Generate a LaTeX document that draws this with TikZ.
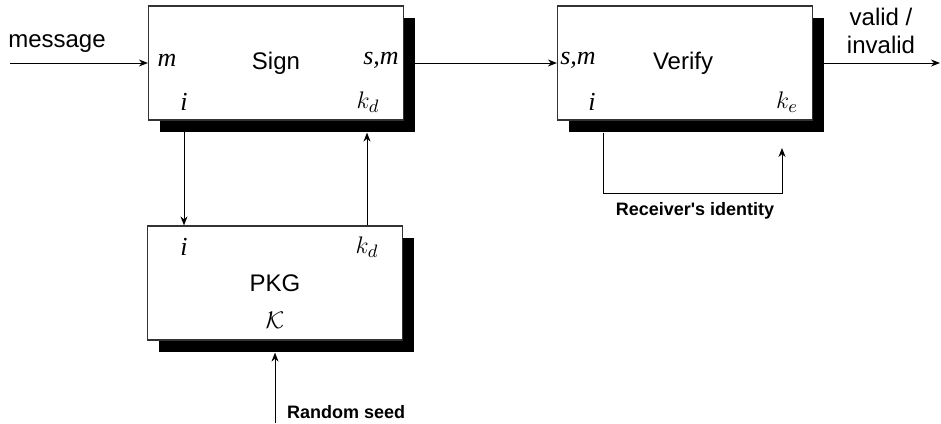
\documentclass[tikz,border=0pt]{standalone}
\usepackage{fontspec}
\setmainfont{Liberation Sans}[Ligatures=TeXOff]
\newfontfamily\symfont{Liberation Serif}
\usetikzlibrary{arrows.meta,shadows}
\definecolor{boxline}{HTML}{333333}

\begin{document}
\begin{tikzpicture}[x=0.5pt, y=-0.5pt,
    every node/.style={font=\fontsize{12}{14}\selectfont},
    block/.style={draw=boxline, line width=0.6pt, fill=white, inner sep=0pt,
      minimum width=127.5pt, minimum height=57pt,
      drop shadow={shadow xshift=5.5pt, shadow yshift=-6pt, fill=black, opacity=1}},
    sym/.style={font=\fontsize{13}{15}\selectfont\symfont\itshape},
    note/.style={font=\fontsize{9}{11}\selectfont\bfseries},
    arr/.style={-{Stealth[length=4.5pt,width=3.5pt]}, line width=0.5pt}]
  \useasboundingbox (0,0) rectangle (941,423);
  % boxes
  \node[block] (sign) at (276,63) {};
  \node[block] (verify) at (685,63) {};
  \node[block] (pkg) at (275,283) {};
  % texts in the boxes
  \node (signtxt) at (276,63) {Sign};
  \node[sym] (signm) at (167,60) {m};
  \node[sym] (signsm) at (381,60) {s,m};
  \node[sym] (signi) at (184,102) {i};
  \node[sym] (signk) at (368,102) {$k_d$};
  \node (verifytxt) at (683,63) {Verify};
  \node[sym] (verifysm) at (578,60) {s,m};
  \node[sym] (verifyi) at (592,102) {i};
  \node[sym] (verifyk) at (787,102) {$k_e$};
  \node (pkgtxt) at (275,283) {PKG};
  \node[sym] (pkgi) at (184,247) {i};
  \node[sym] (pkgk) at (367,247) {$k_d$};
  \node[sym] (pkgkey) at (275,320) {$\mathcal{K}$};
  % outside texts
  \node (msg) at (57,44) {message};
  \node[align=center, font=\fontsize{12}{14}\selectfont] (result) at (881,31) {valid /\\invalid};
  \node[note] (recvtxt) at (695,211) {Receiver's identity};
  \node[note, anchor=west] (seedtxt) at (280,412) {Random seed};
  % free ends
  \coordinate (msgin) at (10,63);
  \coordinate (out) at (940,63);
  \coordinate (seed) at (275,423);
  \coordinate (loopl) at (603,193);
  \coordinate (loopr) at (782,193);
  \coordinate (recv) at (782,148);
  % connectors
  \draw[arr] (msgin) -- (sign);
  \draw[arr] (sign.east) -- (verify.west);
  \draw[arr] (verify.east) -- (out);
  \draw[arr] (sign.south -| signi) -- (pkg.north -| signi);
  \draw[arr] (pkg.north -| pkgk) -- ([yshift=-6pt]sign.south -| pkgk);
  \draw[arr] (seed) -- ([yshift=-6pt]pkg.south);
  \draw[arr] ([yshift=-6pt]verify.south -| loopl) -- (loopl) -- (loopr) -- (recv);
\end{tikzpicture}
\end{document}
